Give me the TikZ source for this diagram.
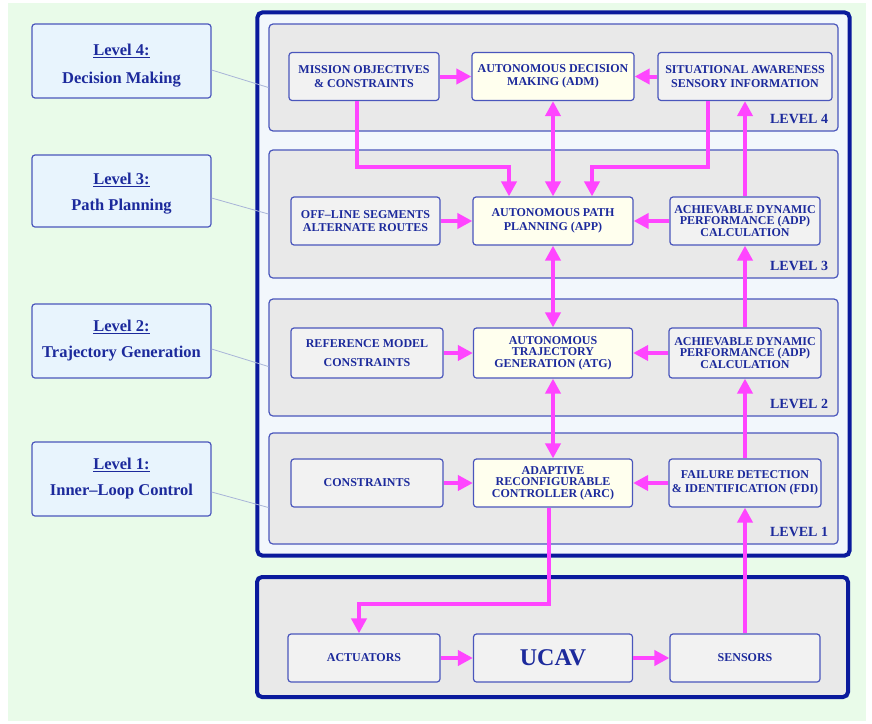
\documentclass[tikz,border=0pt]{standalone}
\usepackage{fontspec}
\setmainfont{Liberation Serif}
\usepackage{tikz}
\usetikzlibrary{arrows.meta,positioning,fit,backgrounds}
\definecolor{navy}{HTML}{0A1A9C}
\definecolor{inkblue}{HTML}{1C2A9C}
\definecolor{edge}{HTML}{4A56BC}
\definecolor{pale}{HTML}{E9FBE9}
\definecolor{panel}{HTML}{E9E9E9}
\definecolor{sky}{HTML}{E8F4FD}
\definecolor{cream}{HTML}{FFFFEE}
\definecolor{shell}{HTML}{F2F7FC}
\definecolor{pink}{HTML}{FF45FF}
\definecolor{leader}{HTML}{A8B4D8}

\begin{document}
\begin{tikzpicture}[
  x=1pt, y=-1pt,
  font=\fontsize{12}{13.5}\selectfont\bfseries,
  >={Triangle[length=15pt,width=15pt]},
  box/.style={draw=edge, line width=1.2pt, rounded corners=3pt, align=center, fill=black!5, text=inkblue, inner sep=2pt, minimum height=48pt},
  core/.style={box, fill=cream},
  tier/.style={draw=edge, line width=1.2pt, rounded corners=4pt, fill=panel, minimum width=569pt},
  shellbox/.style={draw=navy, line width=4pt, rounded corners=5pt},
  lvlabel/.style={font=\fontsize{16.5}{19}\selectfont\bfseries, draw=edge, line width=1.2pt, rounded corners=3pt, fill=sky, text=inkblue, align=center, minimum width=179pt, minimum height=74pt},
  levtag/.style={font=\fontsize{14}{16}\selectfont\bfseries, text=inkblue, anchor=base east},
  flow/.style={->, line width=4pt, draw=pink},
  bflow/.style={<->, line width=4pt, draw=pink},
]
\useasboundingbox (0,0) rectangle (872,723);
\begin{scope}[on background layer]
\fill[pale] (8,3) rectangle (866,721);
\end{scope}

% the four levels (grey panels)
\node[tier, minimum height=107pt] (lv4) at (553.5,77.5) {};
\node[tier, minimum height=128pt] (lv3) at (553.5,214) {};
\node[tier, minimum height=117pt] (lv2) at (553.5,357.5) {};
\node[tier, minimum height=111pt] (lv1) at (553.5,488.5) {};
\begin{scope}[on background layer]
\node[shellbox, fill=shell, inner sep=11pt, fit=(lv4)(lv1)] (shell) {};
\end{scope}
\foreach \i in {1,...,4} \node[levtag] at ([xshift=-7pt,yshift=8pt]lv\i.south east) {LEVEL \i};

% level 4
\node[box, minimum width=150pt] (mission) at (364,76.5) {MISSION OBJECTIVES\\\& CONSTRAINTS};
\node[core, minimum width=162pt] (adm) at (553,76.5) {AUTONOMOUS DECISION\\MAKING (ADM)};
\node[box, minimum width=174pt] (sa) at (745,76.5) {SITUATIONAL AWARENESS\\SENSORY INFORMATION};
% level 3
\node[box, minimum width=149pt] (offline) at (365.5,221) {OFF--LINE SEGMENTS\\ALTERNATE ROUTES};
\node[core, minimum width=160pt] (app) at (553,221) {AUTONOMOUS PATH\\PLANNING (APP)};
\node[box, minimum width=150pt] (adp3) at (745,221) {ACHIEVABLE DYNAMIC\\[-2pt]PERFORMANCE (ADP)\\[-2pt]CALCULATION};
% level 2
\node[box, minimum width=152pt, minimum height=50pt] (ref) at (367,353) {REFERENCE MODEL\\[6pt]CONSTRAINTS};
\node[core, minimum width=159pt, minimum height=50pt] (atg) at (553,353) {AUTONOMOUS\\[-2pt]TRAJECTORY\\[-2pt]GENERATION (ATG)};
\node[box, minimum width=152pt, minimum height=50pt] (adp2) at (745,353) {ACHIEVABLE DYNAMIC\\[-2pt]PERFORMANCE (ADP)\\[-2pt]CALCULATION};
% level 1
\node[box, minimum width=152pt] (cons) at (367,483) {CONSTRAINTS};
\node[core, minimum width=159pt] (arc) at (553,483) {ADAPTIVE\\[-2pt]RECONFIGURABLE\\[-2pt]CONTROLLER (ARC)};
\node[box, minimum width=152pt] (fdi) at (745,483) {FAILURE DETECTION\\\& IDENTIFICATION (FDI)};

% vehicle
\node[shellbox, fill=panel, minimum width=591pt, minimum height=120pt] (plant) at (552.5,637) {};
\node[box, minimum width=152pt] (act) at (364,658) {ACTUATORS};
\node[box, minimum width=159pt, font=\fontsize{24}{28}\selectfont\bfseries] (ucav) at (553,658) {UCAV};
\node[box, minimum width=150pt] (sens) at (745,658) {SENSORS};

% level names on the left
\node[lvlabel] (lab4) at (121.5,61) {\rule{0pt}{20pt}\underline{Level 4:}\\[9pt]Decision Making};
\node[lvlabel, minimum height=72pt] (lab3) at (121.5,191) {\rule{0pt}{16pt}\underline{Level 3:}\\[7pt]Path Planning};
\node[lvlabel] (lab2) at (121.5,341) {\underline{Level 2:}\\[7pt]Trajectory Generation};
\node[lvlabel] (lab1) at (121.5,479) {\underline{Level 1:}\\[7pt]Inner--Loop Control};
\foreach \i/\a/\b in {4/9/10, 3/7/0, 2/8/9, 1/13/19}
  \draw[leader, line width=0.8pt] ([yshift=-\a pt]lab\i.east) -- ([yshift=-\b pt]lv\i.west);

% signal flow
\foreach \u/\v in {mission/adm, sa/adm, offline/app, adp3/app, ref/atg, adp2/atg, cons/arc, fdi/arc,
                   adp3/sa, adp2/adp3, fdi/adp2, sens/fdi, act/ucav, ucav/sens}
  \draw[flow] (\u) -- (\v);
\foreach \u/\v in {adm/app, app/atg, atg/arc} \draw[bflow] (\u) -- (\v);
\draw[flow] ([xshift=-7pt]mission.south) -- ++(0,66) -| ([xshift=-44pt]app.north);
\draw[flow] ([xshift=-37pt]sa.south) -- ++(0,66) -| ([xshift=39pt]app.north);
\draw[flow] ([xshift=-4pt]arc.south) -- ++(0,96) -| ([xshift=-5pt]act.north);
\end{tikzpicture}
\end{document}
